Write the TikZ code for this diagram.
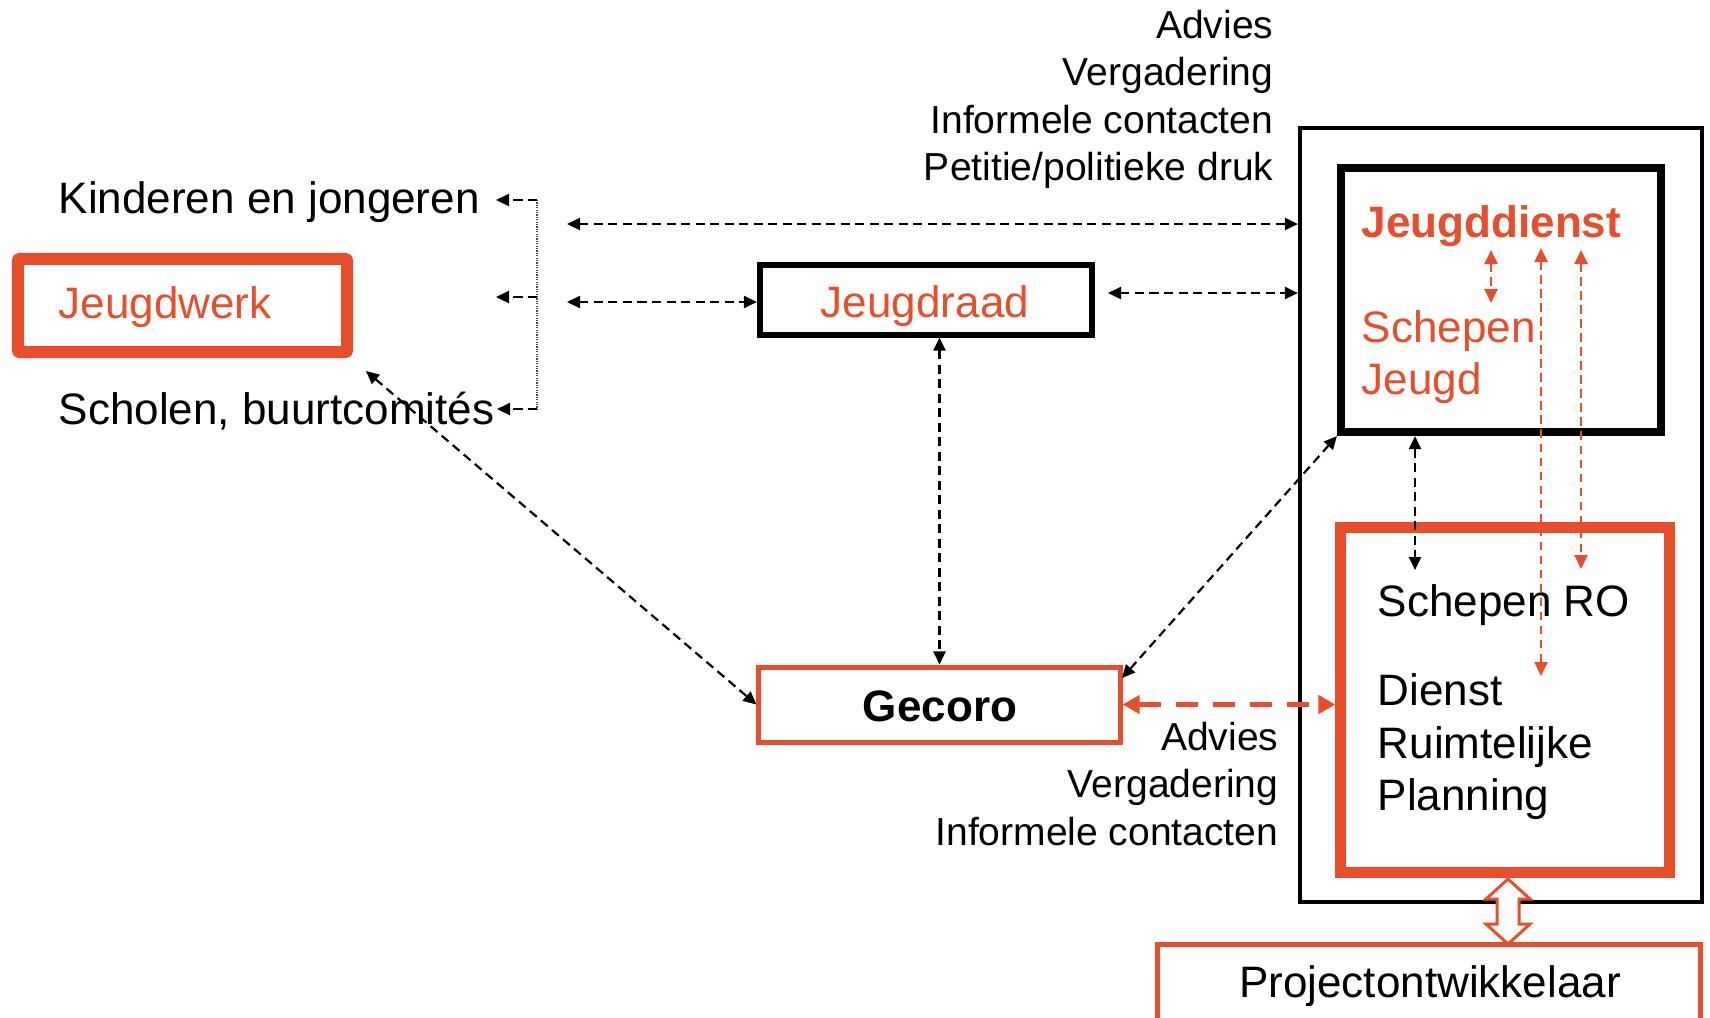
\documentclass[tikz,border=0pt]{standalone}
\usepackage{fontspec}
\setmainfont{Liberation Sans}
\usetikzlibrary{arrows.meta}
\definecolor{org}{HTML}{E94E2B}
\begin{document}
\begin{tikzpicture}[x=0.01cm,y=-0.01cm,
  txt/.style={inner sep=0pt, font=\fontsize{12.52}{15}\selectfont},
  lbl/.style={inner sep=0pt, anchor=base east, font=\fontsize{11.1}{13}\selectfont},
  box/.style={draw, inner sep=0pt},
  bk/.style={draw=black, line width=0.022cm, dash pattern=on 0.09cm off 0.055cm,
    {Triangle[length=0.13cm,width=0.12cm]}-{Triangle[length=0.13cm,width=0.12cm]}},
  ok/.style={draw=org, line width=0.025cm, dash pattern=on 0.085cm off 0.055cm,
    {Triangle[length=0.14cm,width=0.13cm]}-{Triangle[length=0.14cm,width=0.13cm]}},
  okthick/.style={draw=org, line width=0.05cm, dash pattern=on 0.22cm off 0.15cm,
    {Triangle[length=0.17cm,width=0.18cm]}-{Triangle[length=0.17cm,width=0.18cm]}},
  bshort/.style={draw=black, line width=0.022cm, dash pattern=on 0.09cm off 0.055cm,
    -{Triangle[length=0.13cm,width=0.12cm]}}
]
\useasboundingbox (0,0) rectangle (1710,1017);

% boxes
\node[box, draw=black, line width=0.04cm, minimum width=4.02cm, minimum height=7.74cm] (outer) at (1501,515) {};
\node[box, draw=black, line width=0.08cm, minimum width=3.20cm, minimum height=2.64cm] (jdienst) at (1501,300) {};
\node[box, draw=org, line width=0.11cm, minimum width=3.28cm, minimum height=3.44cm] (ro) at (1505,700) {};
\node[box, draw=org, line width=0.12cm, rounded corners=0.02cm, minimum width=3.29cm, minimum height=0.93cm] (jwerk) at (182.5,305.5) {};
\node[box, draw=black, line width=0.06cm, minimum width=3.32cm, minimum height=0.69cm] (jraad) at (926,300) {};
\node[box, draw=org, line width=0.05cm, minimum width=3.61cm, minimum height=0.75cm] (gecoro) at (939.5,704.5) {};
\node[box, draw=org, line width=0.05cm, minimum width=5.42cm, minimum height=0.78cm] (proj) at (1429,983) {};

% texts
\node[txt, anchor=base west] (kind) at (58,213) {Kinderen en jongeren};
\node[txt, anchor=base west, text=org] (jwerkT) at (58,318) {Jeugdwerk};
\node[txt, anchor=base west] (schol) at (58,424) {Scholen, buurtcomités};
\node[txt, anchor=base, text=org] (jraadT) at (925,317) {Jeugdraad};
\node[txt, anchor=base, font=\fontsize{12.52}{15}\selectfont\bfseries] (gecoroT) at (940,721) {Gecoro};
\node[txt, anchor=base west, text=org, font=\fontsize{12.52}{15}\selectfont\bfseries] (jdienstT) at (1361,237) {Jeugddienst};
\node[txt, anchor=base west, text=org] (schJ1) at (1361,342) {Schepen};
\node[txt, anchor=base west, text=org] (schJ2) at (1361,394) {Jeugd};
\node[txt, anchor=base west] (schRO) at (1377,616) {Schepen RO};
\node[txt, anchor=base west] (drp1) at (1377,705) {Dienst};
\node[txt, anchor=base west] (drp2) at (1377,758) {Ruimtelijke};
\node[txt, anchor=base west] (drp3) at (1377,810) {Planning};
\node[txt, anchor=base] (projT) at (1430,997) {Projectontwikkelaar};

\node[lbl] (t1) at (1274,38) {Advies};
\node[lbl] (t2) at (1274,85) {Vergadering};
\node[lbl] (t3) at (1274,133) {Informele contacten};
\node[lbl] (t4) at (1274,180) {Petitie/politieke druk};
\node[lbl] (b1) at (1279,750) {Advies};
\node[lbl] (b2) at (1279,797) {Vergadering};
\node[lbl] (b3) at (1279,845) {Informele contacten};

% bracket
\coordinate (br1) at (537,200);
\coordinate (br2) at (537,297);
\coordinate (br3) at (537,409);
\coordinate (e1) at (496,200);
\coordinate (e2) at (496,297);
\coordinate (e3) at (497,409);
\draw[gray!60!black, line width=0.012cm, dash pattern=on 0.012cm off 0.012cm] (br1) -- (br3);
\draw[bshort] (br1) -- (e1);
\draw[bshort] (br2) -- (e2);
\draw[bshort] (br3) -- (e3);

% black connectors
\coordinate (a1) at (567,224);
\coordinate (a2) at (567,302);
\coordinate (a3) at (1108,293);
\coordinate (a5) at (366,371);
\coordinate (a6) at (1122,678);
\coordinate (a7) at (1415,570);
\draw[bk] (a1) -- (a1 -| outer.west);
\draw[bk] (a2) -- (a2 -| jraad.west);
\draw[bk] (a3) -- (a3 -| outer.west);
\draw[bk] (gecoro.north |- jraad.south) -- (gecoro.north);
\draw[bk] (a5) -- (gecoro.west);
\draw[bk] (a6) -- (jdienst.south west);
\draw[bk] (a7 |- jdienst.south) -- (a7);

% orange connectors
\coordinate (o1a) at (1491,250);
\coordinate (o1b) at (1491,303);
\coordinate (o2a) at (1541,248);
\coordinate (o2b) at (1541,676);
\coordinate (o3a) at (1581,250);
\coordinate (o3b) at (1581,569);
\draw[ok] (o1a) -- (o1b);
\draw[ok] (o2a) -- (o2b);
\draw[ok] (o3a) -- (o3b);
\draw[okthick] (gecoro.east) -- (gecoro.east -| ro.west);

% hollow double arrow between RO and Projectontwikkelaar
\coordinate (ha) at (1508,879);
\draw[org, line width=0.03cm, fill=white, line join=miter]
  (ha) -- ++(22,20) -- ++(-11,0) -- ++(0,25) -- ++(11,0) -- ++(-22,20)
  -- ++(-22,-20) -- ++(11,0) -- ++(0,-25) -- ++(-11,0) -- cycle;
\end{tikzpicture}
\end{document}
